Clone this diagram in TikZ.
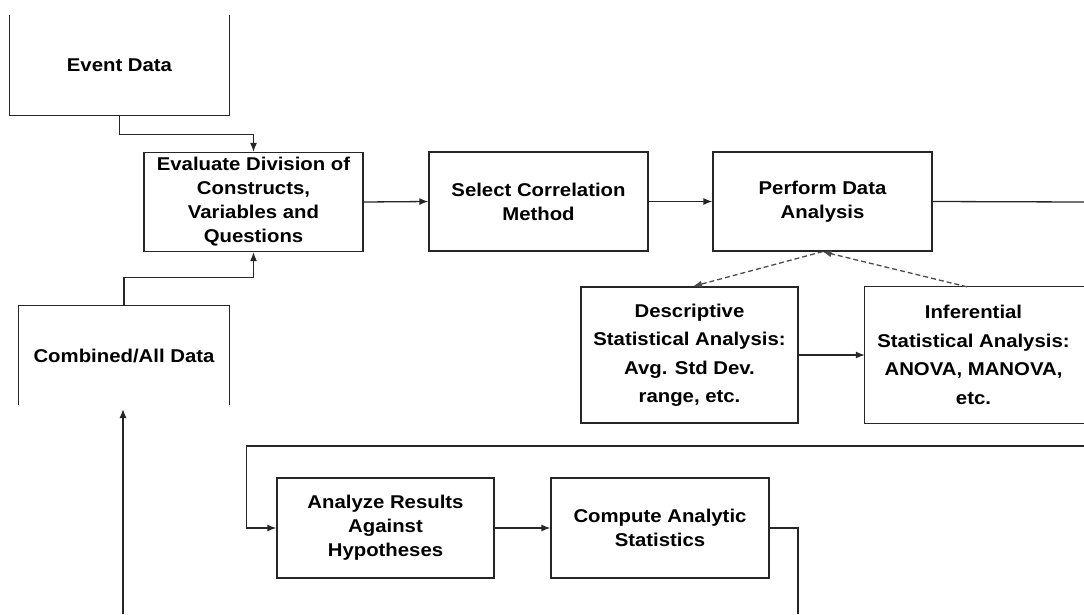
\documentclass[tikz,border=0pt]{standalone}
\usepackage{fontspec}
\setmainfont[FakeStretch=1.1]{Liberation Sans}
\usetikzlibrary{arrows.meta,calc}
\tikzset{
  ln/.style={line width=1.3pt, draw=black!85},
  arr/.style={ln, -{Latex[length=9pt,width=7pt]}},
  darr/.style={ln, dashed, dash pattern=on 5pt off 3pt, draw=black!70, -{Latex[length=9pt,width=7pt]}},
  txt/.style={font=\bfseries\fontsize{18.5}{24}\selectfont, align=center, inner sep=0pt},
  txtb/.style={font=\bfseries\fontsize{18.5}{28.5}\selectfont, align=center, inner sep=0pt},
  box/.style={ln, rectangle, minimum width=#1, minimum height=99pt},
  open/.style={rectangle, minimum width=#1, minimum height=100pt},
}
\begin{document}
\begin{tikzpicture}[x=1pt,y=-1pt]
\useasboundingbox (0,0) rectangle (1084,614);
% nodes
\node[open=219pt, txt] (ev) at (119.5,65) {Event Data};
\node[box=219pt, txt] (eval) at (253.5,202) {Evaluate Division of\\Constructs,\\Variables and\\Questions};
\node[open=210pt, minimum height=99pt, txt] (comb) at (124,355.5) {Combined/All Data};
\node[box=219pt, txt] (sel) at (538.5,201.5) {Select Correlation\\Method};
\node[box=219pt, txt] (perf) at (822.5,201.5) {Perform Data\\Analysis};
\node[box=217pt, minimum height=136pt, txtb] (desc) at (689.5,355) {Descriptive\\Statistical Analysis:\\Avg. Std Dev.\\range, etc.};
\node[rectangle, minimum width=217pt, minimum height=136pt, txtb] (inf) at (973.5,355) {Inferential\\Statistical Analysis:\\ANOVA, MANOVA,\\etc.};
\node[box=217pt, minimum height=100pt, txt] (ana) at (385.5,528) {Analyze Results\\Against\\Hypotheses};
\node[box=218pt, minimum height=100pt, txt] (comp) at (660,528) {Compute Analytic\\Statistics};
% open box borders
\draw[ln] (ev.north west) -- (ev.south west) -- (ev.south east) -- (ev.north east);
\draw[ln] (comb.south west) -- (comb.north west) -- (comb.north east) -- (comb.south east);
\draw[ln] ([xshift=2pt]inf.north east) -- (inf.north west) -- (inf.south west) -- ([xshift=2pt]inf.south east);
% free ends
\coordinate (b1) at (123,614);
\coordinate (b2) at (123,409);
\coordinate (pe) at (1084,202);
\coordinate (le) at (1084,446);
\coordinate (ce) at (798,614);
% connectors
\draw[arr] (ev.south) -- ++(0,19) -| (eval.north);
\draw[arr] (comb.north) -- ++(0,-28) -| (eval.south);
\draw[arr] (b1) -- (b2);
\draw[arr] (eval.east) -- (sel.west);
\draw[arr] (sel.east) -- (perf.west);
\draw[ln] (perf.east) -- (pe);
\draw[darr] (perf.south) -- ([xshift=3.5pt]desc.north);
\draw[darr] ([xshift=-6.5pt]inf.north) -- (perf.south);
\draw[arr] (desc.east) -- (inf.west);
\draw[arr] (le) -| ($(ana.west)+(-30,0)$) -- (ana.west);
\draw[arr] (ana.east) -- (comp.west);
\draw[ln] (comp.east) -| (ce);
\end{tikzpicture}
\end{document}
